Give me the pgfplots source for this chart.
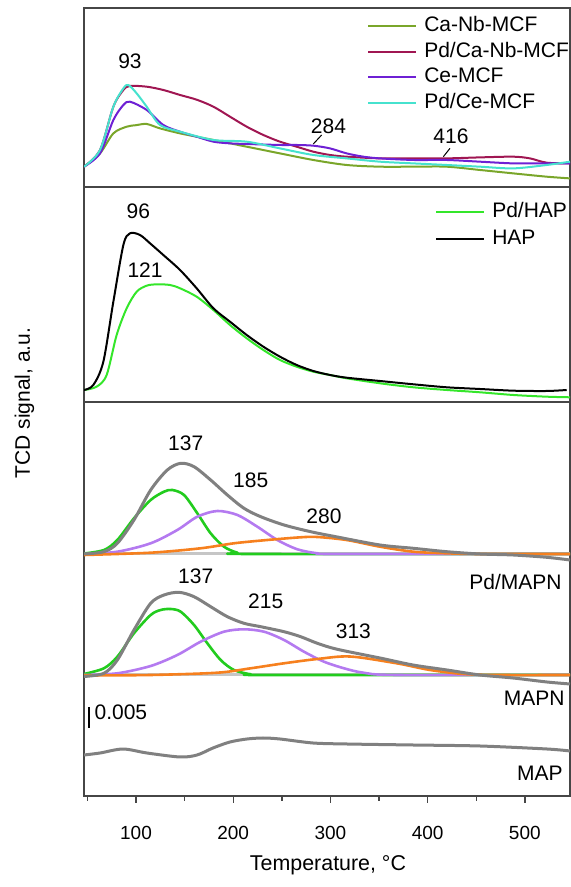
\documentclass[border=0pt]{standalone}
\usepackage{fontspec}
\setmainfont{Liberation Sans}
\usepackage{pgfplots}
\pgfplotsset{compat=1.18}

\definecolor{canb}{RGB}{122,166,42}
\definecolor{pdcanb}{RGB}{160,22,82}
\definecolor{cemcf}{RGB}{110,32,212}
\definecolor{pdce}{RGB}{70,226,206}
\definecolor{pdhap}{RGB}{52,230,42}
\definecolor{tot}{RGB}{128,128,128}
\definecolor{fitg}{RGB}{34,204,30}
\definecolor{fitp}{RGB}{180,122,240}
\definecolor{fito}{RGB}{246,128,30}
\definecolor{frame}{RGB}{70,70,70}

\tikzset{lbl/.style={font=\fontsize{10.5}{12}\selectfont, inner sep=0pt}}

\pgfplotsset{
  panel/.style={
    scale only axis, width=243pt,
    xmin=46.5, xmax=546.5,
    xtick=\empty, ytick=\empty,
    axis line style={draw=frame, line width=0.7pt},
    anchor=south west,
    every axis plot/.append style={line width=1pt, line join=round, smooth, tension=0.5},
  },
  leg/.style={
    legend style={draw=none, fill=none, inner sep=0pt, row sep=3.3pt,
      font=\fontsize{10.5}{12}\selectfont,
      cells={anchor=west},
      nodes={inner xsep=3.5pt, inner ysep=0pt, text height=7.5pt, text depth=2pt}},
    legend image code/.code={\draw[#1] (0pt,0pt) -- (24pt,0pt);},
  },
}

\begin{document}
\begin{tikzpicture}
\path[use as bounding box] (0,0) rectangle (285.5pt,443.5pt);

% top panel: MCF samples
\begin{axis}[panel, leg, at={(42pt,350pt)}, height=89.5pt,
  ymin=-20.3, ymax=158.7,
  legend style={at={(0.582,0.955)}, anchor=north west}]
\addplot[canb] coordinates {
(46.5,0) (63,13.3) (76.7,33.3) (90.4,40) (100,41.5) (111,42.7) (124.7,38.3)
(145.3,33.3) (162.4,30) (179.6,26.7) (213.9,20) (248.1,13.3) (282.4,6.7)
(316.7,1.7) (351,0) (385.3,0) (419.6,0) (453.9,-3.3) (488.2,-6.7)
(522.5,-10) (546.5,-11.7)};
\addlegendentry{Ca-Nb-MCF}
\addplot[pdcanb] coordinates {
(46.5,0) (63,16.7) (76.7,60) (87,76.7) (93.8,80.7) (111,80) (128.1,76.7)
(145.3,71.7) (162.4,67) (179.6,60) (196.7,50) (213.9,40) (231,31.7)
(248.1,25) (265.3,20) (282.4,15) (299.6,11.7) (316.7,10) (351,8.3)
(385.3,8.3) (419.6,8.3) (453.9,9.3) (488.2,10) (505.3,8.3) (522.5,4)
(546.5,3.3)};
\addlegendentry{Pd/Ca-Nb-MCF}
\addplot[cemcf] coordinates {
(46.5,0) (63,13.3) (76.7,46.7) (87,61.7) (93.8,65) (111,56.7) (128.1,41.7)
(145.3,35) (162.4,30) (179.6,25) (196.7,23.3) (213.9,22.7) (248.1,21.7)
(265.3,21.7) (282.4,21) (299.6,18.3) (316.7,13.3) (333.9,10) (351,8.3)
(385.3,6.7) (419.6,6.7) (453.9,5) (488.2,3.3) (522.5,3.3) (546.5,3.3)};
\addlegendentry{Ce-MCF}
\addplot[pdce] coordinates {
(46.5,0) (63,16.7) (76.7,60) (87,78.3) (92.1,81.7) (100.7,73.3) (111,60)
(124.7,41.7) (145.3,35) (179.6,26.7) (213.9,25) (248.1,18.3) (282.4,11.7)
(316.7,8.3) (351,5) (385.3,3.3) (419.6,1.7) (453.9,0) (488.2,-1.7)
(522.5,1.7) (546.5,5)};
\addlegendentry{Pd/Ce-MCF}
\node[lbl] at (axis cs:93.8,105) {93};
\node[lbl] at (axis cs:298,40) {284};
\node[lbl] at (axis cs:424,30) {416};
\draw[black, line width=0.5pt] (axis cs:282.4,22.7) -- (axis cs:291,31.7);
\draw[black, line width=0.5pt] (axis cs:416.2,10) -- (axis cs:423,18.3);
\end{axis}

% middle panel: HAP
\begin{axis}[panel, leg, at={(42pt,242.5pt)}, height=107.5pt,
  ymin=-12, ymax=203,
  legend style={at={(0.722,0.93)}, anchor=north west, row sep=4pt}]
\addplot[pdhap] coordinates {
(46.5,0) (59.5,3.3) (69.8,15) (80.1,55) (90.4,81.7) (100.7,98.3) (111,104.3)
(121.3,105.7) (135,105) (145.3,101.7) (162.4,93.3) (179.6,80) (196.7,65)
(213.9,51.7) (231,40) (248.1,30) (265.3,23.3) (282.4,18.3) (299.6,15)
(316.7,11.7) (351,6.7) (385.3,2.7) (419.6,0) (453.9,-2.3) (488.2,-5)
(522.5,-6.7) (546.5,-7.3)};
\addlegendentry{Pd/HAP}
\addplot[black] coordinates {
(46.5,0) (56.1,5) (66.4,28.3) (76.7,88.3) (87,145) (93.8,156.7) (104.1,155)
(114.4,146.7) (128.1,135) (145.3,120) (162.4,101.7) (179.6,81.7)
(196.7,68.3) (213.9,55) (231,43.3) (248.1,33.3) (265.3,25) (282.4,19)
(299.6,15) (316.7,12.3) (351,9) (385.3,5.7) (419.6,2.7) (453.9,1)
(488.2,-0.7) (522.5,-1) (543.1,0)};
\addlegendentry{HAP}
\node[lbl] at (axis cs:102.4,178.3) {96};
\node[lbl] at (axis cs:109.3,120) {121};
\end{axis}

% bottom panel: MAP series with deconvolution
\begin{axis}[panel, at={(42pt,45.5pt)}, height=197pt,
  ymin=0, ymax=394,
  xtick={100,200,300,400,500},
  minor xtick={50,150,250,350,450},
  xtick pos=bottom, tick align=outside,
  major tick length=3.5pt, minor tick length=2.5pt,
  tick style={draw=frame, line width=0.7pt},
  xticklabel style={font=\fontsize{9.5}{11}\selectfont, yshift=-8pt},
  /pgf/number format/assume math mode=true]
% Pd/MAPN
\addplot[tot!45, line width=1.5pt] coordinates {(46.5,242) (546.5,242)};
\addplot[fitg, line width=1.3pt] coordinates {
(46.5,242.5) (67,246) (80.8,256) (97.9,277.7) (115.1,296) (128.8,304.3)
(137.4,306) (149.4,301) (163.1,282.7) (176.8,262.7) (190.5,249.3)
(204.3,243.3) (218,242) (546.5,242)};
\addplot[fitp, line width=1.3pt] coordinates {
(46.5,242) (80.8,244.3) (115.1,252.7) (142.5,266) (163.1,279.3) (183.7,285)
(204.3,281) (224.8,269.3) (245.4,256) (266,246.7) (286.6,242.7) (307.1,242)
(546.5,242)};
\addplot[fito, line width=1.3pt] coordinates {
(46.5,241) (115.1,243.3) (166.5,247.7) (200.8,252.7) (235.1,256)
(269.4,258.7) (286.6,259) (316.7,256) (351,249.3) (385.3,244.3)
(419.6,242.7) (453.9,242) (546.5,242)};
\addplot[tot, line width=1.5pt] coordinates {
(46.5,242) (67,244.3) (80.8,252.7) (97.9,276) (115.1,306) (132.2,326)
(146,332.7) (159.7,329.3) (176.8,316) (194,301) (211.1,287.7) (228.3,279.3)
(252.3,271) (279.7,264.3) (307.1,259) (351,251) (385.3,247.7)
(419.6,244.3) (453.9,242) (488.2,241) (522.5,238.7) (546.5,236)};
% MAPN
\addplot[tot!45, line width=1.5pt] coordinates {(46.5,121) (546.5,121)};
\addplot[fitg, line width=1.3pt] coordinates {
(46.5,122) (67,127.7) (80.8,139.3) (97.9,162.7) (115.1,181) (125.4,186)
(135.7,187) (146,184.3) (159.7,171) (173.4,152.7) (187.1,136) (200.8,126)
(218,121.7) (235.1,121) (546.5,121)};
\addplot[fitp, line width=1.3pt] coordinates {
(46.5,121) (80.8,122.7) (115.1,130) (142.5,141) (166.5,154.3) (190.5,164.3)
(211.1,166.7) (231.7,164.3) (252.3,156) (272.8,144.3) (293.4,134.3)
(314,127.7) (333.9,123.3) (368.2,121) (546.5,121)};
\addplot[fito, line width=1.3pt] coordinates {
(46.5,120.5) (115.1,121) (183.7,123.3) (218,127.7) (252.3,132.7) (286.6,137)
(320.2,139.5) (368.2,132.7) (402.5,126) (436.8,122) (471,121)
(546.5,121)};
\addplot[tot, line width=1.5pt] coordinates {
(46.5,119.5) (67,122.7) (80.8,136) (97.9,166) (115.1,192.7) (128.8,201)
(144.2,203.7) (159.7,199.3) (176.8,189.3) (194,179.3) (211.1,172.7)
(228.3,169.3) (252.3,164.3) (269.4,159.3) (286.6,152.7) (307.1,146.7)
(351,138) (385,131) (420,126) (453.9,121) (487.9,118)
(522.8,114) (546.5,112)};
% MAP
\addplot[tot, line width=1.5pt] coordinates {
(46.5,41) (63,43) (86.6,47) (111.3,43) (145.3,39) (162.8,41) (179.2,48)
(196.7,54) (214.2,57) (230.7,58) (248.1,57) (282.1,53) (317.1,52)
(385,51) (453.9,50) (522.8,47) (546.5,45)};
% labels
\node[lbl] at (axis cs:151.1,352.7) {137};
\node[lbl] at (axis cs:218,316) {185};
\node[lbl] at (axis cs:293.4,279.3) {280};
\node[lbl] at (axis cs:161.4,219.3) {137};
\node[lbl] at (axis cs:233.4,194.3) {215};
\node[lbl] at (axis cs:323.6,164.3) {313};
\node[lbl, anchor=east] at (axis cs:538.3,214) {Pd/MAPN};
\node[lbl, anchor=east] at (axis cs:541.4,98) {MAPN};
\node[lbl, anchor=east] at (axis cs:539.3,23) {MAP};
\draw[black, line width=1.1pt] (axis cs:51.6,68) -- (axis cs:51.6,89);
\node[lbl, anchor=west] at (axis cs:57,84) {0.005};
\end{axis}

\node[font=\fontsize{10.5}{12}\selectfont, rotate=90] at (12.25pt,242pt) {TCD signal, a.u.};
\node[font=\fontsize{10.7}{12}\selectfont] at (164pt,11pt) {Temperature, \textdegree C};
\end{tikzpicture}
\end{document}
